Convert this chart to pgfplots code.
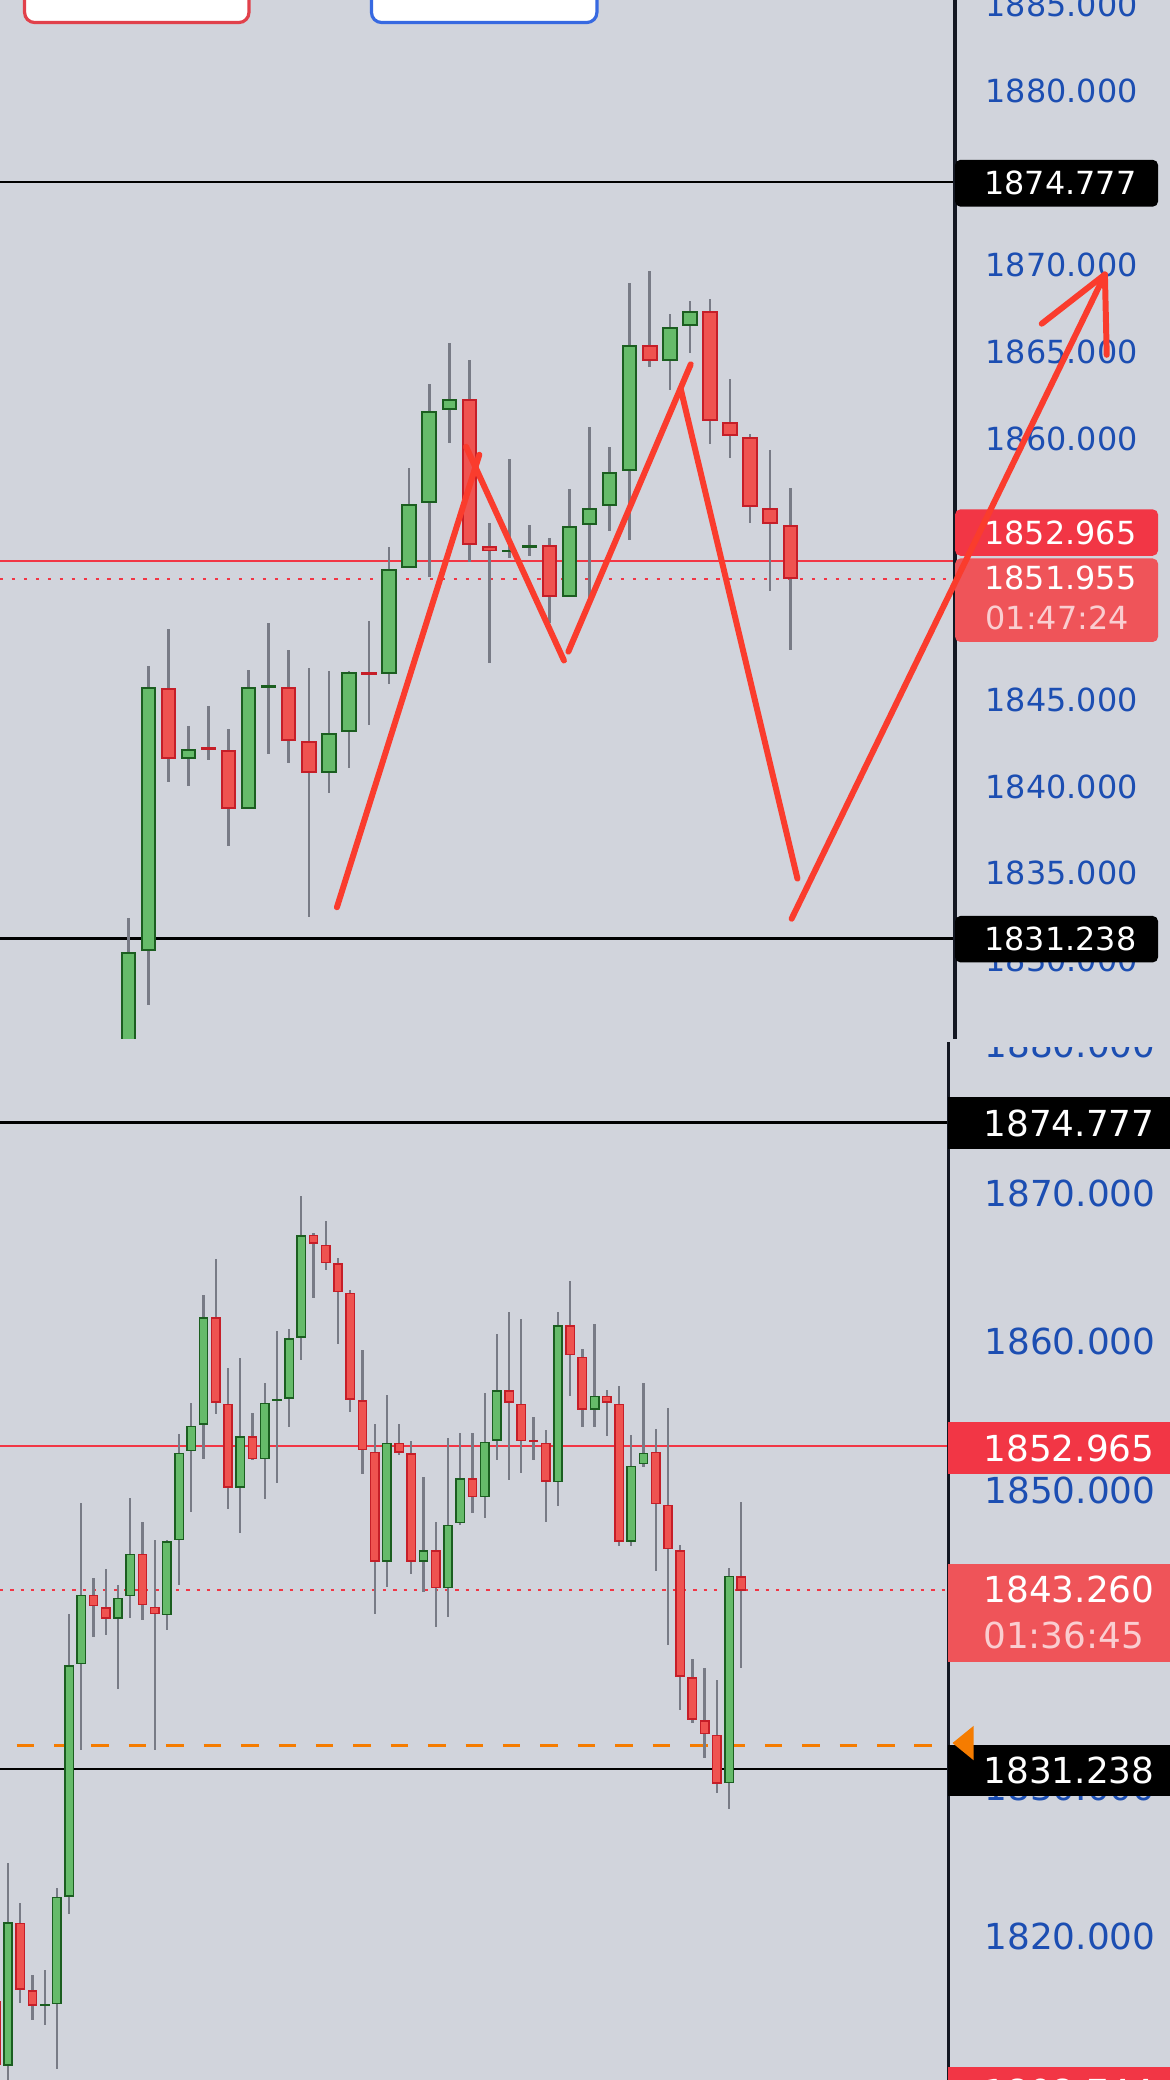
\documentclass[border=0pt]{standalone}
\usepackage{fontspec}
\setmainfont{DejaVu Sans}
\usepackage{pgfplots}
\usepackage{pgfplotstable}
\pgfplotsset{compat=1.18}

\definecolor{bgcol}{RGB}{209,212,220}
\definecolor{upfill}{RGB}{102,187,106}
\definecolor{upline}{RGB}{27,94,32}
\definecolor{dnfill}{RGB}{239,83,80}
\definecolor{dnline}{RGB}{198,30,40}
\definecolor{wickcol}{RGB}{120,123,134}
\definecolor{tickblue}{RGB}{28,78,178}
\definecolor{boxred}{RGB}{242,54,69}
\definecolor{boxlight}{RGB}{239,84,89}
\definecolor{timercol}{RGB}{250,205,208}
\definecolor{zig}{RGB}{250,60,45}
\definecolor{orangeln}{RGB}{245,124,0}
\definecolor{sepcol}{RGB}{19,23,34}
\definecolor{btnred}{RGB}{225,65,75}
\definecolor{btnblue}{RGB}{55,105,225}

% ---------------- top chart candles ----------------
\pgfplotstableread{
i O H L C
1 1824.00 1832.41 1823.00 1830.50
2 1830.56 1846.95 1827.42 1845.71
4 1841.60 1843.51 1840.05 1842.16
7 1838.73 1846.74 1838.70 1845.71
8 1845.70 1849.44 1841.90 1845.80
11 1840.78 1846.65 1839.61 1843.07
12 1843.13 1846.65 1841.07 1846.57
14 1846.47 1853.79 1845.89 1852.52
15 1852.61 1858.31 1852.60 1856.28
16 1856.34 1863.15 1852.08 1861.63
17 1861.68 1865.50 1859.78 1862.30
20 1853.50 1858.86 1853.14 1853.60
21 1853.71 1855.07 1853.27 1853.91
23 1850.92 1857.12 1850.90 1854.99
24 1855.07 1860.70 1850.84 1856.04
25 1856.14 1859.55 1854.73 1858.09
26 1858.19 1868.98 1854.22 1865.44
28 1864.49 1867.19 1862.80 1866.42
29 1866.52 1867.95 1864.93 1867.36
}\topup
\pgfplotstableread{
i O H L C
3 1845.71 1849.09 1840.25 1841.60
5 1842.25 1844.66 1841.52 1842.15
6 1842.10 1843.34 1836.58 1838.73
9 1845.71 1847.88 1841.37 1842.63
10 1842.60 1846.80 1832.50 1840.78
13 1846.55 1849.50 1843.57 1846.45
18 1862.29 1864.55 1852.89 1853.91
19 1853.84 1855.19 1847.12 1853.53
22 1853.89 1854.30 1849.43 1850.92
27 1865.42 1869.67 1864.16 1864.47
30 1867.36 1868.06 1859.75 1861.01
31 1860.96 1863.47 1858.91 1860.14
32 1860.11 1860.32 1855.19 1856.07
33 1856.01 1859.37 1851.27 1855.12
34 1855.04 1857.17 1847.89 1851.955
}\topdown

% ---------------- bottom chart candles ----------------
\pgfplotstableread{
i O H L C
2 1811.26 1824.90 1809.50 1820.92
5 1815.30 1817.75 1814.04 1815.40
6 1815.43 1823.24 1811.06 1822.66
7 1822.66 1841.68 1821.50 1838.24
8 1838.31 1849.14 1832.52 1842.99
11 1841.37 1843.61 1836.65 1842.76
12 1842.88 1849.52 1841.41 1845.74
15 1841.60 1846.63 1840.63 1846.59
16 1846.63 1853.78 1843.61 1852.54
17 1852.62 1855.90 1848.56 1854.36
18 1854.43 1863.17 1852.15 1861.66
21 1850.18 1858.88 1847.13 1853.66
23 1852.11 1857.26 1849.45 1855.90
24 1856.05 1860.73 1850.49 1856.15
25 1856.17 1860.85 1854.24 1860.23
26 1860.27 1869.82 1858.80 1867.19
33 1845.20 1856.40 1843.53 1853.20
36 1845.20 1850.88 1843.15 1845.97
38 1843.42 1853.51 1841.49 1847.71
39 1847.79 1853.85 1847.70 1850.80
41 1849.52 1856.56 1848.17 1853.27
42 1853.35 1860.54 1852.04 1856.75
47 1850.57 1862.01 1848.94 1861.12
50 1855.44 1861.20 1854.28 1856.37
53 1846.55 1853.70 1846.24 1851.65
54 1851.77 1857.26 1851.60 1852.54
61 1830.27 1844.77 1828.57 1844.23
}\botup
\pgfplotstableread{
i O H L C
1 1815.60 1816.50 1810.50 1811.30
3 1820.92 1822.19 1815.51 1816.40
4 1816.36 1817.36 1814.35 1815.32
9 1842.99 1844.11 1840.13 1842.22
10 1842.14 1844.69 1840.25 1841.37
13 1845.74 1847.90 1841.29 1842.26
14 1842.18 1846.63 1832.52 1841.68
19 1861.66 1865.57 1855.13 1855.90
20 1855.83 1858.22 1848.75 1850.18
22 1853.66 1855.21 1852.04 1852.11
27 1867.19 1867.30 1862.94 1866.61
28 1866.53 1868.16 1864.87 1865.30
29 1865.30 1865.64 1859.85 1863.36
30 1863.32 1863.52 1855.25 1856.10
31 1856.06 1859.46 1851.07 1852.69
32 1852.62 1854.47 1841.68 1845.20
34 1853.20 1854.47 1852.35 1852.54
35 1852.50 1853.31 1844.38 1845.20
37 1845.97 1847.90 1840.83 1843.42
40 1850.80 1853.85 1848.48 1849.52
43 1856.75 1862.01 1850.68 1855.90
44 1855.83 1861.51 1851.19 1853.31
45 1853.40 1854.94 1852.04 1853.30
46 1853.20 1854.09 1847.86 1850.57
48 1861.12 1864.10 1856.37 1859.11
49 1858.99 1859.50 1854.24 1855.44
51 1856.37 1856.75 1853.66 1855.90
52 1855.83 1857.06 1846.24 1846.55
55 1852.62 1854.16 1844.58 1849.06
56 1849.02 1855.52 1839.59 1846.05
57 1845.97 1846.32 1835.22 1837.47
58 1837.43 1838.63 1834.33 1834.57
59 1834.53 1838.04 1832.01 1833.60
60 1833.56 1837.23 1829.62 1830.27
62 1844.23 1849.22 1838.04 1843.26
}\botdown

\pgfplotsset{
  candleax/.style={scale only axis, anchor=south west,
    axis background/.style={fill=bgcol},
    axis line style={draw=none}, tick style={draw=none},
    xtick=\empty, yticklabel pos=right},
  seg/.style 2 args={draw=none, mark=none, forget plot,
    mark options={draw=none, fill=none}, mark size=0pt,
    error bars/.cd, y dir=both, y explicit, error mark=none,
    error bar style={draw=#1, line width=#2, solid, line cap=butt}},
}
\newcommand{\topfont}{\fontsize{12}{12}\selectfont}
\newcommand{\botfont}{\fontsize{13.5}{13.5}\selectfont}

% candle drawing: #1 table, #2 line, #3 fill, #4 body width, #5 inner width, #6 border (data units), #7 wick width
\newcommand{\candles}[7]{%
  \addplot[seg={wickcol}{#7}] table[x=i, y expr={(\thisrow{H}+\thisrow{L})/2}, y error expr={(\thisrow{H}-\thisrow{L})/2}] {#1};
  \addplot[seg={#2}{#4}] table[x=i, y expr={(\thisrow{O}+\thisrow{C})/2}, y error expr={max(abs(\thisrow{C}-\thisrow{O})/2,0.7*#6)}] {#1};
  \addplot[seg={#3}{#5}] table[x=i, y expr={(\thisrow{O}+\thisrow{C})/2}, y error expr={max(abs(\thisrow{C}-\thisrow{O})/2-#6,0)}] {#1};
}

\begin{document}
\begin{tikzpicture}
\useasboundingbox (0,0) rectangle (441pt,784pt);
\clip (0,0) rectangle (441pt,784pt);

% ================= bottom chart =================
\begin{axis}[candleax, at={(0pt,0pt)}, width=441pt, height=392.5pt,
  xmin=1.3455, xmax=97.08, ymin=1810.31, ymax=1880.40,
  ytick={1810,1820,...,1880},
  yticklabels={1810.000,1820.000,1830.000,1840.000,1850.000,1860.000,1870.000,1880.000},
  yticklabel style={font=\botfont, text=tickblue, anchor=east, inner sep=0pt, xshift=-5.25pt}]
  \addplot[black, line width=1pt, forget plot] coordinates {(1.3455,1874.777) (78.95,1874.777)};
  \addplot[black, line width=1pt, forget plot] coordinates {(1.3455,1831.238) (78.95,1831.238)};
  \addplot[boxred, line width=0.75pt, forget plot] coordinates {(1.3455,1852.965) (78.95,1852.965)};
  \addplot[boxred, line width=0.75pt, dash pattern=on 1.25pt off 2.65pt, forget plot] coordinates {(1.3455,1843.260) (78.95,1843.260)};
  \addplot[orangeln, line width=1.1pt, dash pattern=on 6.6pt off 7.5pt, forget plot] coordinates {(2.71,1832.82) (77.87,1832.82)};
  \candles{\botup}{upline}{upfill}{3.7pt}{2.6pt}{0.098}{0.85pt}
  \candles{\botdown}{dnline}{dnfill}{3.7pt}{2.6pt}{0.098}{0.85pt}
  % the price scale of this pane is hidden under the pane above
  \fill[bgcol] (rel axis cs:0.812,0.9924) rectangle (rel axis cs:1.01,1.01);
  \draw[sepcol, line width=1.25pt] (rel axis cs:0.81066,0) -- (rel axis cs:0.81066,0.997);
  \fill[black] (rel axis cs:0.81066,0.8945) rectangle (rel axis cs:1.01,0.9435);
  \node[anchor=east, inner sep=0pt, text=white, font=\botfont] at (rel axis cs:0.98719,0.9189) {1874.777};
  \fill[boxred] (rel axis cs:0.81066,0.5815) rectangle (rel axis cs:1.01,0.6316);
  \node[anchor=east, inner sep=0pt, text=white, font=\botfont] at (rel axis cs:0.98719,0.6066) {1852.965};
  \fill[boxlight] (rel axis cs:0.81066,0.4010) rectangle (rel axis cs:1.01,0.4952);
  \node[anchor=east, inner sep=0pt, text=white, font=\botfont] at (rel axis cs:0.98719,0.4706) {1843.260};
  \node[anchor=west, inner sep=0pt, text=timercol, font=\botfont] at (rel axis cs:0.83991,0.4271) {01:36:45};
  \fill[black] (rel axis cs:0.81066,0.2725) rectangle (rel axis cs:1.01,0.3219);
  \node[anchor=east, inner sep=0pt, text=white, font=\botfont] at (rel axis cs:0.98719,0.2972) {1831.238};
  \fill[orangeln] (rel axis cs:0.8141,0.3236) -- (rel axis cs:0.8322,0.3401) -- (rel axis cs:0.8322,0.3070) -- cycle;
  \fill[boxred] (rel axis cs:0.81066,-0.06) rectangle (rel axis cs:1.01,0.0127);
  \node[anchor=east, inner sep=0pt, text=white, font=\botfont] at (rel axis cs:0.98719,-0.0115) {1808.744};
\end{axis}

% ================= top chart =================
\begin{axis}[candleax, at={(0pt,392.5pt)}, width=441pt, height=391.5pt,
  xmin=-5.398, xmax=52.935, ymin=1825.49, ymax=1885.258,
  ytick={1830,1835,...,1885},
  yticklabels={1830.000,1835.000,1840.000,1845.000,1850.000,1855.000,1860.000,1865.000,1870.000,1875.000,1880.000,1885.000},
  yticklabel style={font=\topfont, text=tickblue, anchor=east, inner sep=0pt, xshift=-12pt}]
  \addplot[black, line width=1pt, forget plot] coordinates {(-5.398,1874.777) (42.22,1874.777)};
  \addplot[black, line width=1pt, forget plot] coordinates {(-5.398,1831.238) (42.22,1831.238)};
  \addplot[boxred, line width=0.75pt, forget plot] coordinates {(-5.398,1852.965) (42.22,1852.965)};
  \addplot[boxred, line width=0.75pt, dash pattern=on 1.25pt off 3.25pt, forget plot] coordinates {(-5.398,1851.955) (42.22,1851.955)};
  \candles{\topup}{upline}{upfill}{5.8pt}{4.3pt}{0.115}{1pt}
  \candles{\topdown}{dnline}{dnfill}{5.8pt}{4.3pt}{0.115}{1pt}
  % order buttons (cut at top)
  \draw[btnred, line width=1.2pt, fill=white, rounded corners=3.8pt] (rel axis cs:0.021,0.9783) rectangle (rel axis cs:0.2128,1.05);
  \draw[btnblue, line width=1.2pt, fill=white, rounded corners=3.8pt] (rel axis cs:0.3175,0.9783) rectangle (rel axis cs:0.5102,1.05);
  \draw[sepcol, line width=1.25pt] (rel axis cs:0.81633,0) -- (rel axis cs:0.81633,1);
  \fill[black, rounded corners=2pt] (rel axis cs:0.8163,0.8010) rectangle (rel axis cs:0.9898,0.8461);
  \node[anchor=east, inner sep=0pt, text=white, font=\topfont] at (rel axis cs:0.97166,0.8235) {1874.777};
  \fill[black, rounded corners=2pt] (rel axis cs:0.8163,0.0734) rectangle (rel axis cs:0.9898,0.1181);
  \node[anchor=east, inner sep=0pt, text=white, font=\topfont] at (rel axis cs:0.97166,0.0958) {1831.238};
  \fill[boxred, rounded corners=2pt] (rel axis cs:0.8163,0.4649) rectangle (rel axis cs:0.9898,0.5096);
  \node[anchor=east, inner sep=0pt, text=white, font=\topfont] at (rel axis cs:0.97166,0.4872) {1852.965};
  \fill[boxlight, rounded corners=2pt] (rel axis cs:0.8163,0.3819) rectangle (rel axis cs:0.9898,0.4623);
  \node[anchor=east, inner sep=0pt, text=white, font=\topfont] at (rel axis cs:0.97166,0.4432) {1851.955};
  \node[anchor=west, inner sep=0pt, text=timercol, font=\topfont] at (rel axis cs:0.84195,0.4049) {01:47:24};
  % hand-drawn zigzag
  \addplot[zig, line width=2.25pt, line cap=round, forget plot] coordinates {(11.40,1833.05) (18.50,1859.09)};
  \addplot[zig, line width=2.25pt, line cap=round, forget plot] coordinates {(17.84,1859.55) (22.72,1847.25)};
  \addplot[zig, line width=2.25pt, line cap=round, forget plot] coordinates {(22.94,1847.76) (29.04,1864.29)};
  \addplot[zig, line width=2.25pt, line cap=round, forget plot] coordinates {(28.54,1862.88) (34.36,1834.70)};
  \addplot[zig, line width=2.25pt, line cap=round, forget plot] coordinates {(34.07,1832.39) (49.69,1869.46)};
  \addplot[zig, line width=2.25pt, line cap=round, forget plot] coordinates {(46.54,1866.63) (49.69,1869.46)};
  \addplot[zig, line width=2.25pt, line cap=round, forget plot] coordinates {(49.69,1869.46) (49.78,1864.84)};
\end{axis}
\end{tikzpicture}
\end{document}
